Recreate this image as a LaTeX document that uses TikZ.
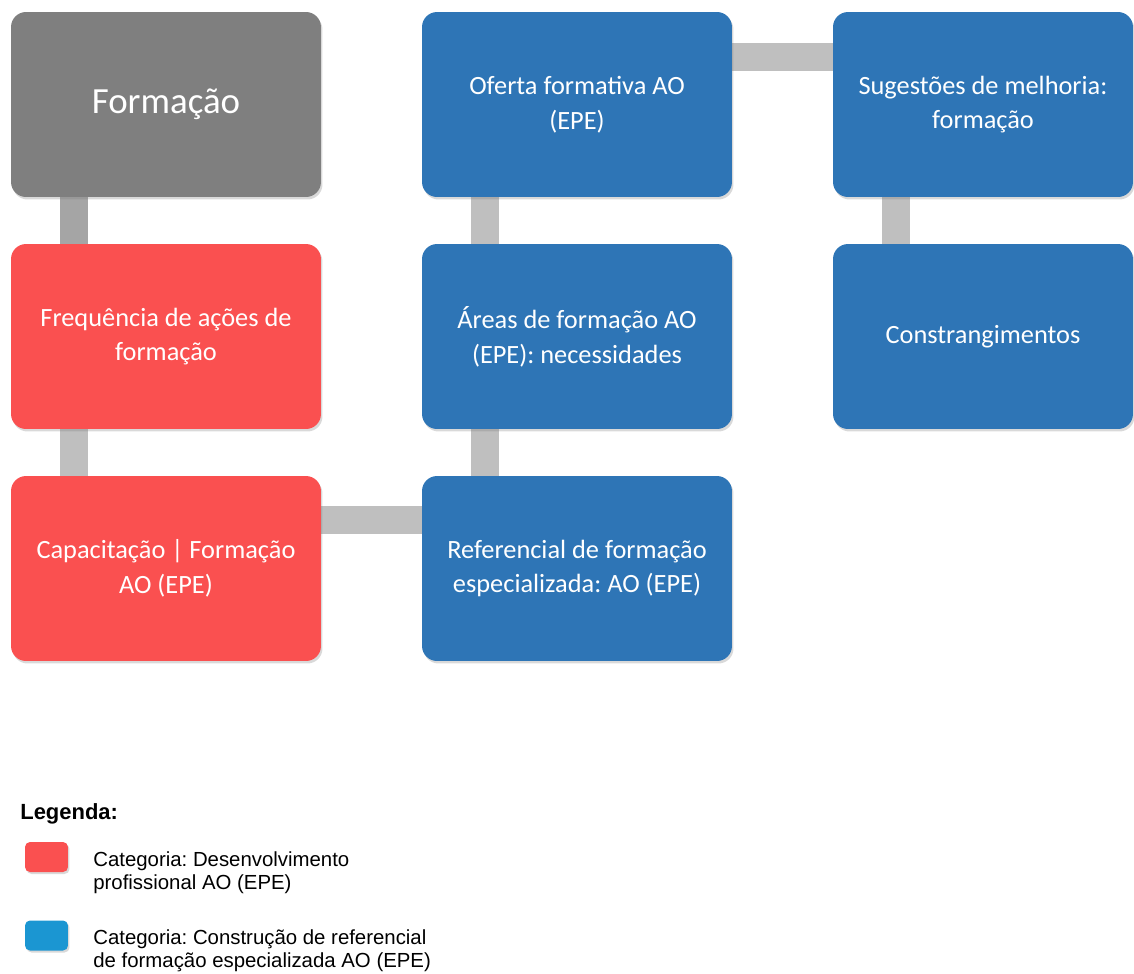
\documentclass[tikz,border=0pt]{standalone}
\usepackage{fontspec}
\setmainfont{Carlito}
\newfontfamily\legendfont{Liberation Sans}
\usetikzlibrary{shadows,backgrounds}
\frenchspacing
\definecolor{catGray}{RGB}{127,127,127}
\definecolor{catRed}{RGB}{250,80,80}
\definecolor{catBlue}{RGB}{46,117,182}
\definecolor{keyBlue}{RGB}{27,150,210}
\definecolor{linkGray}{RGB}{191,191,191}
\definecolor{linkDark}{RGB}{165,165,165}
\tikzset{
  catbox/.style={rounded corners=0.3cm, minimum width=6.2cm, minimum height=3.7cm, text=white, align=center,
    font=\fontsize{15}{19.8}\selectfont, drop shadow={shadow xshift=0.03cm, shadow yshift=-0.05cm, opacity=0.3}},
  link/.style={line width=0.56cm, draw=linkGray},
  legkey/.style={rounded corners=0.1cm, minimum width=0.86cm, minimum height=0.6cm, inner sep=0,
    drop shadow={shadow xshift=0.03cm, shadow yshift=-0.04cm, opacity=0.3}},
  legtext/.style={anchor=west, align=left, inner sep=0, font=\legendfont\fontsize{11.6}{13}\selectfont},
}
\begin{document}
\begin{tikzpicture}[x=0.02cm, y=-0.02cm]
  \useasboundingbox (0,0) rectangle (1134,974);
  % categorias
  \node[catbox, fill=catGray, font=\fontsize{21}{25}\selectfont] (form) at (166,104.5) {Formação};
  \node[catbox, fill=catRed] (freq) at (166,336.5) {Frequência de ações de\\formação};
  \node[catbox, fill=catRed] (capac) at (166,568.5) {Capacitação | Formação\\AO (EPE)};
  \node[catbox, fill=catBlue] (oferta) at (577,104.5) {Oferta formativa AO\\(EPE)};
  \node[catbox, fill=catBlue] (areas) at (577,336.5) {Áreas de formação AO\\(EPE): necessidades};
  \node[catbox, fill=catBlue] (refer) at (577,568.5) {Referencial de formação\\especializada: AO (EPE)};
  \node[catbox, fill=catBlue, minimum width=6cm] (suges) at (983,104.5) {Sugestões de melhoria:\\formação};
  \node[catbox, fill=catBlue, minimum width=6cm] (constr) at (983,336.5) {Constrangimentos};
  % ligações
  \begin{pgfonlayer}{background}
    \draw[link, draw=linkDark] ([xshift=1.26cm]form.south west) -- ([xshift=1.26cm]freq.north west);
    \draw[link] ([xshift=1.26cm]freq.south west) -- ([xshift=1.26cm]capac.north west);
    \draw[link] ([yshift=-0.88cm]capac.north east) -- ([yshift=-0.88cm]refer.north west);
    \draw[link] ([xshift=1.26cm]refer.north west) -- ([xshift=1.26cm]areas.south west);
    \draw[link] ([xshift=1.26cm]areas.north west) -- ([xshift=1.26cm]oferta.south west);
    \draw[link] ([yshift=-0.9cm]oferta.north east) -- ([yshift=-0.9cm]suges.north west);
    \draw[link] ([xshift=1.27cm]suges.south west) -- ([xshift=1.27cm]constr.north west);
  \end{pgfonlayer}
  % legenda
  \node[anchor=west, inner sep=0, font=\legendfont\bfseries\fontsize{12.5}{15}\selectfont] (legtitle) at (20,814) {Legenda:};
  \node[legkey, fill=catRed] (keyred) at (46.5,857) {};
  \node[legtext] (txtred) at (93,873) {Categoria: Desenvolvimento\\profissional AO (EPE)};
  \node[legkey, fill=keyBlue] (keyblue) at (46.5,935.5) {};
  \node[legtext] (txtblue) at (93,951) {Categoria: Construção de referencial\\de formação especializada AO (EPE)};
\end{tikzpicture}
\end{document}
